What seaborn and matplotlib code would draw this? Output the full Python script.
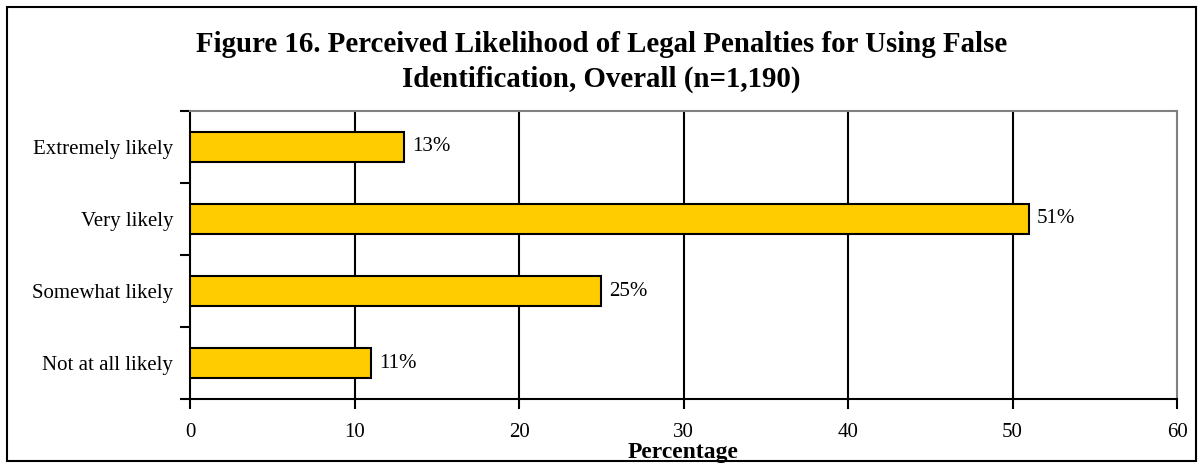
import matplotlib
matplotlib.use("Agg")
import matplotlib.pyplot as plt
import seaborn as sns
import pandas as pd
from matplotlib.patches import Rectangle

categories = ["Extremely likely", "Very likely", "Somewhat likely", "Not at all likely"]
values = [13, 51, 25, 11]
value_labels = ["13%", "51%", "25%", "11%"]
x_ticks = [0, 10, 20, 30, 40, 50, 60]

sns.set_style("white")
plt.rcParams["font.family"] = ["Liberation Serif", "DejaVu Serif"]
plt.rcParams["text.color"] = "black"
plt.rcParams["axes.labelcolor"] = "black"
plt.rcParams["xtick.color"] = "black"
plt.rcParams["ytick.color"] = "black"

df = pd.DataFrame({"category": categories, "value": values})

fig = plt.figure(figsize=(12.03, 4.68), dpi=100)
ax = fig.add_axes([190 / 1203, 1 - 399 / 468, (1177 - 190) / 1203, (399 - 111) / 468])

sns.barplot(data=df, x="value", y="category", orient="h", color="#FFCC00",
            saturation=1, width=0.42, edgecolor="black", linewidth=1.5, ax=ax, zorder=3)

ax.set_xlim(0, 60)
ax.set_ylim(3.5, -0.5)
ax.set_xticks(x_ticks)
ax.set_xticklabels([str(t) for t in x_ticks], fontsize=15, color="black")
ax.set_yticks([-0.5, 0.5, 1.5, 2.5, 3.5])
ax.set_yticklabels([])
ax.set_yticks(range(len(categories)), minor=True)
ax.set_yticklabels(categories, minor=True, fontsize=15, color="black")
ax.tick_params(axis="y", which="minor", length=0, pad=12)
ax.tick_params(axis="y", which="major", length=7, width=1.5, color="black", direction="out", left=True)
ax.tick_params(axis="x", length=7, width=1.5, color="black", direction="out", bottom=True, pad=10)

for g in x_ticks[1:-1]:
    ax.axvline(g, color="black", linewidth=1.5, zorder=1)

ax.set_ylabel("")
ax.set_xlabel("Percentage", fontsize=17, fontweight="bold", labelpad=0, color="black")

for s in ["left", "bottom"]:
    ax.spines[s].set_color("black")
    ax.spines[s].set_linewidth(1.5)
for s in ["top", "right"]:
    ax.spines[s].set_color("#808080")
    ax.spines[s].set_linewidth(1.5)
    ax.spines[s].set_visible(True)

for i, (v, lab) in enumerate(zip(values, value_labels)):
    ax.text(v + 0.5, i, lab, va="center", ha="left", fontsize=15, color="black")

fig.text(0.5, 1 - 45 / 468, "Figure 16. Perceived Likelihood of Legal Penalties for Using False",
         ha="center", va="center", fontsize=20.8, fontweight="bold", color="black")
fig.text(0.5, 1 - 79 / 468, "Identification, Overall (n=1,190)",
         ha="center", va="center", fontsize=20.8, fontweight="bold", color="black")

fig.patches.append(Rectangle((7 / 1203, 1 - 461 / 468), (1196 - 7) / 1203, (461 - 7) / 468,
                             transform=fig.transFigure, fill=False, edgecolor="black", linewidth=1.5))

fig.savefig("out.png", dpi=100)
